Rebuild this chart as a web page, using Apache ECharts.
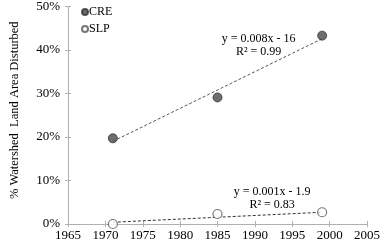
<!DOCTYPE html>
<html>
<head>
<meta charset="utf-8">
<script src="https://cdn.jsdelivr.net/npm/echarts@6/dist/echarts.min.js"></script>
<style>
  html, body { margin: 0; padding: 0; background: #fff; }
  #chart { width: 383px; height: 246px; }
</style>
</head>
<body>
<div id="chart"></div>
<script>
// data (% of watershed land area disturbed)
const years = [1971, 1985, 1999]
const creValues = [19.7, 29.1, 43.3]
const slpValues = [0.0, 2.3, 2.7]
// trend line end points
const trendYears = [1971, 1999]
const creTrend = [19.0, 42.6]
const slpTrend = [0.4, 2.7]

const font = 'Liberation Serif'
const axisColor = '#b0b0b0'

const pairs = (xs, ys) => xs.map((x, i) => [x, ys[i]])

const chart = echarts.init(document.getElementById('chart'))

const option = {
  animation: false,
  grid: { left: 62, right: 13, top: 5, bottom: 22 },
  xAxis: [
    {
      type: 'value', min: 1965, max: 2005, interval: 5,
      axisLine: { lineStyle: { color: axisColor } },
      axisTick: { show: true, length: 3, lineStyle: { color: axisColor } },
      axisLabel: { color: '#000', fontFamily: font, fontSize: 13, margin: 5, formatter: (v) => String(v) },
      splitLine: { show: false }
    },
    {
      type: 'value', min: 1965, max: 2005, interval: 5, position: 'bottom',
      axisLine: { show: false },
      axisTick: { show: true, inside: true, length: 3, lineStyle: { color: axisColor } },
      axisLabel: { show: false },
      splitLine: { show: false }
    }
  ],
  yAxis: [
    {
      type: 'value', min: 0, max: 50, interval: 10,
      name: '% Watershed  Land Area Disturbed',
      nameLocation: 'middle', nameGap: 47, nameRotate: 90,
      nameTextStyle: { color: '#000', fontFamily: font, fontSize: 12.5, padding: [0, 0, 0, 10] },
      axisLine: { show: true, lineStyle: { color: axisColor } },
      axisTick: { show: true, length: 3, lineStyle: { color: axisColor } },
      axisLabel: { color: '#000', fontFamily: font, fontSize: 13, margin: 8, formatter: '{value}%' },
      splitLine: { show: false }
    },
    {
      type: 'value', min: 0, max: 50, interval: 10, position: 'left',
      axisLine: { show: false },
      axisTick: { show: true, inside: true, length: 3, lineStyle: { color: axisColor } },
      axisLabel: { show: false },
      splitLine: { show: false }
    }
  ],
  legend: {
    left: 76, top: 1, orient: 'vertical', itemGap: 5,
    itemWidth: 6, itemHeight: 6, icon: 'circle',
    textStyle: { fontFamily: font, fontSize: 12, color: '#000', padding: [0, 0, 0, -4] },
    data: ['CRE', 'SLP']
  },
  series: [
    {
      name: 'CRE trend', type: 'line', data: pairs(trendYears, creTrend),
      symbol: 'none', lineStyle: { color: '#555', width: 1, type: [3, 2] }, z: 1,
      markPoint: {
        symbol: 'rect', symbolSize: 0,
        data: [{ coord: [1990.5, 41.0] }],
        label: { show: true, formatter: 'y = 0.008x - 16\nR² = 0.99', fontFamily: font, fontSize: 12, lineHeight: 13, color: '#000', align: 'center' }
      }
    },
    {
      name: 'SLP trend', type: 'line', data: pairs(trendYears, slpTrend),
      symbol: 'none', lineStyle: { color: '#333', width: 1, type: [3, 2] }, z: 1,
      markPoint: {
        symbol: 'rect', symbolSize: 0,
        data: [{ coord: [1992.3, 6.0] }],
        label: { show: true, formatter: 'y = 0.001x - 1.9\nR² = 0.83', fontFamily: font, fontSize: 12, lineHeight: 13, color: '#000', align: 'center' }
      }
    },
    {
      name: 'CRE', type: 'scatter', data: pairs(years, creValues),
      symbolSize: 9, z: 3,
      itemStyle: { color: '#4a4a4a', borderColor: '#333', borderWidth: 1 }
    },
    {
      name: 'SLP', type: 'scatter', data: pairs(years, slpValues),
      symbolSize: 9, z: 3,
      itemStyle: { color: '#fff', borderColor: '#555', borderWidth: 1.2 }
    }
  ]
}

chart.setOption(option)
</script>
</body>
</html>
